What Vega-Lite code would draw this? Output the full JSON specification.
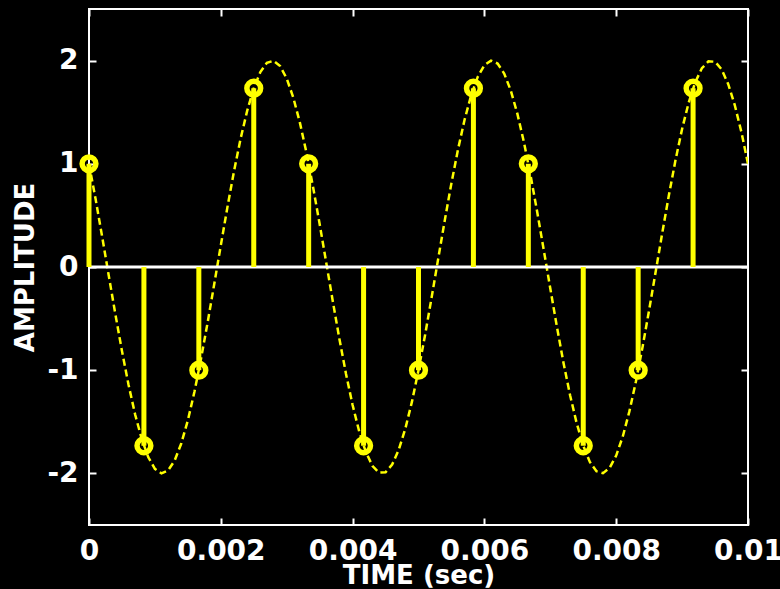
{
  "$schema": "https://vega.github.io/schema/vega-lite/v6.json",
  "width": 659,
  "height": 516,
  "autosize": {"type": "none"},
  "padding": {"left": 89, "top": 9, "right": 32, "bottom": 64},
  "background": "#000000",
  "config": {
    "view": {"stroke": "#ffffff", "strokeWidth": 2, "fill": "#000000"},
    "axis": {
      "labelFont": "DejaVu Sans", "labelFontWeight": "bold", "labelFontSize": 28, "labelColor": "#ffffff",
      "titleFont": "DejaVu Sans", "titleFontWeight": "bold", "titleFontSize": 26, "titleColor": "#ffffff",
      "domain": false, "grid": false, "tickColor": "#ffffff", "tickWidth": 2, "labelFlush": false, "labelOverlap": false, "labelBound": false
    }
  },
  "datasets": {
    "curve": [
      {"t":0.0000,"v":1.000},{"t":0.0001,"v":0.658},{"t":0.0002,"v":0.292},{"t":0.0003,"v":-0.084},{"t":0.0004,"v":-0.457},
      {"t":0.0005,"v":-0.813},{"t":0.0006,"v":-1.141},{"t":0.0007,"v":-1.429},{"t":0.0008,"v":-1.666},{"t":0.0009,"v":-1.844},
      {"t":0.0010,"v":-1.956},{"t":0.0011,"v":-2.000},{"t":0.0012,"v":-1.972},{"t":0.0013,"v":-1.875},{"t":0.0014,"v":-1.711},
      {"t":0.0015,"v":-1.486},{"t":0.0016,"v":-1.209},{"t":0.0017,"v":-0.889},{"t":0.0018,"v":-0.538},{"t":0.0019,"v":-0.167},
      {"t":0.0020,"v":0.209},{"t":0.0021,"v":0.578},{"t":0.0022,"v":0.927},{"t":0.0023,"v":1.242},{"t":0.0024,"v":1.513},
      {"t":0.0025,"v":1.732},{"t":0.0026,"v":1.889},{"t":0.0027,"v":1.979},{"t":0.0028,"v":1.998},{"t":0.0029,"v":1.947},
      {"t":0.0030,"v":1.827},{"t":0.0031,"v":1.642},{"t":0.0032,"v":1.399},{"t":0.0033,"v":1.107},{"t":0.0034,"v":0.775},
      {"t":0.0035,"v":0.416},{"t":0.0036,"v":0.042},{"t":0.0037,"v":-0.334},{"t":0.0038,"v":-0.697},{"t":0.0039,"v":-1.036},
      {"t":0.0040,"v":-1.338},{"t":0.0041,"v":-1.593},{"t":0.0042,"v":-1.791},{"t":0.0043,"v":-1.926},{"t":0.0044,"v":-1.993},
      {"t":0.0045,"v":-1.989},{"t":0.0046,"v":-1.915},{"t":0.0047,"v":-1.772},{"t":0.0048,"v":-1.567},{"t":0.0049,"v":-1.307},
      {"t":0.0050,"v":-1.000},{"t":0.0051,"v":-0.658},{"t":0.0052,"v":-0.292},{"t":0.0053,"v":0.084},{"t":0.0054,"v":0.457},
      {"t":0.0055,"v":0.813},{"t":0.0056,"v":1.141},{"t":0.0057,"v":1.429},{"t":0.0058,"v":1.666},{"t":0.0059,"v":1.844},
      {"t":0.0060,"v":1.956},{"t":0.0061,"v":2.000},{"t":0.0062,"v":1.972},{"t":0.0063,"v":1.875},{"t":0.0064,"v":1.711},
      {"t":0.0065,"v":1.486},{"t":0.0066,"v":1.209},{"t":0.0067,"v":0.889},{"t":0.0068,"v":0.538},{"t":0.0069,"v":0.167},
      {"t":0.0070,"v":-0.209},{"t":0.0071,"v":-0.578},{"t":0.0072,"v":-0.927},{"t":0.0073,"v":-1.242},{"t":0.0074,"v":-1.513},
      {"t":0.0075,"v":-1.732},{"t":0.0076,"v":-1.889},{"t":0.0077,"v":-1.979},{"t":0.0078,"v":-1.998},{"t":0.0079,"v":-1.947},
      {"t":0.0080,"v":-1.827},{"t":0.0081,"v":-1.642},{"t":0.0082,"v":-1.399},{"t":0.0083,"v":-1.107},{"t":0.0084,"v":-0.775},
      {"t":0.0085,"v":-0.416},{"t":0.0086,"v":-0.042},{"t":0.0087,"v":0.334},{"t":0.0088,"v":0.697},{"t":0.0089,"v":1.036},
      {"t":0.0090,"v":1.338},{"t":0.0091,"v":1.593},{"t":0.0092,"v":1.791},{"t":0.0093,"v":1.926},{"t":0.0094,"v":1.993},
      {"t":0.0095,"v":1.989},{"t":0.0096,"v":1.915},{"t":0.0097,"v":1.772},{"t":0.0098,"v":1.567},{"t":0.0099,"v":1.307},
      {"t":0.0100,"v":1.000}
    ],
    "samples": [
      {"t":0.0000000,"v":1.000},{"t":0.0008333,"v":-1.732},{"t":0.0016667,"v":-1.000},{"t":0.0025000,"v":1.732},
      {"t":0.0033333,"v":1.000},{"t":0.0041667,"v":-1.732},{"t":0.0050000,"v":-1.000},{"t":0.0058333,"v":1.732},
      {"t":0.0066667,"v":1.000},{"t":0.0075000,"v":-1.732},{"t":0.0083333,"v":-1.000},{"t":0.0091667,"v":1.732}
    ],
    "zero": [{"v": 0}]
  },
  "layer": [
    {
      "data": {"name": "curve"},
      "mark": {"type": "line", "color": "#ffff00", "strokeWidth": 2.5, "strokeDash": [7, 4], "clip": true},
      "encoding": {
        "x": {"field": "t", "type": "quantitative", "scale": {"domain": [0, 0.01], "nice": false, "zero": false},
              "axis": {"orient": "top", "labels": false, "title": null, "values": [0, 0.002, 0.004, 0.006, 0.008, 0.01], "tickSize": -7}},
        "y": {"field": "v", "type": "quantitative", "scale": {"domain": [-2.5, 2.5], "nice": false},
              "axis": {"orient": "right", "labels": false, "title": null, "values": [-2, -1, 0, 1, 2], "tickSize": -7}}
      }
    },
    {
      "data": {"name": "zero"},
      "mark": {"type": "rule", "color": "#ffffff", "strokeWidth": 3},
      "encoding": {
        "y": {"field": "v", "type": "quantitative", "axis": null}
      }
    },
    {
      "data": {"name": "samples"},
      "mark": {"type": "rule", "color": "#ffff00", "strokeWidth": 5},
      "encoding": {
        "x": {"field": "t", "type": "quantitative",
              "axis": {"orient": "bottom", "title": "TIME (sec)", "values": [0, 0.002, 0.004, 0.006, 0.008, 0.01], "tickSize": -7,
                       "labelPadding": 19, "labelExpr": "toString(datum.value)", "titlePadding": -3}},
        "y": {"field": "v", "type": "quantitative",
              "axis": {"orient": "left", "title": "AMPLITUDE", "values": [-2, -1, 0, 1, 2], "tickSize": -7,
                       "labelPadding": 18, "labelExpr": "toString(datum.value)", "titlePadding": 8}},
        "y2": {"datum": 0}
      }
    },
    {
      "data": {"name": "samples"},
      "mark": {"type": "point", "shape": "circle", "filled": false, "color": "#ffff00", "strokeWidth": 5.5, "size": 190, "opacity": 1},
      "encoding": {
        "x": {"field": "t", "type": "quantitative", "axis": null},
        "y": {"field": "v", "type": "quantitative", "axis": null}
      }
    }
  ],
  "resolve": {"axis": {"x": "independent", "y": "independent"}}
}
